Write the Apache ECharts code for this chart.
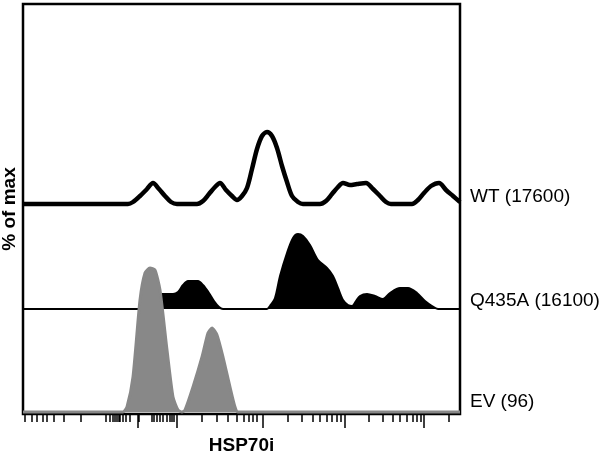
<!DOCTYPE html>
<html>
<head>
<meta charset="utf-8">
<script src="https://cdn.jsdelivr.net/npm/echarts@6/dist/echarts.min.js"></script>
<style>
  html, body { margin: 0; padding: 0; background: #fff; }
  #main { width: 600px; height: 453px; }
</style>
</head>
<body>
<div id="main"></div>
<script>
// display channel (0..437) vs height, one row per sample
var wtX = [0, 105, 110, 117, 124, 130, 136, 142, 148, 154, 174, 180, 186, 192, 197, 203, 209, 214, 219, 224, 229, 234, 239, 244, 249, 254, 259, 264, 269, 275, 280, 297, 303, 309, 315, 320, 327, 334, 343, 350, 357, 363, 368, 389, 395, 401, 408, 416, 423, 430, 437];
var wtY = [0, 0, 2, 8, 15, 21, 15, 8, 2, 0, 0, 3, 10, 17, 21, 14, 8, 4, 8, 16, 35, 55, 68, 72, 68, 56, 38, 22, 8, 2, 0, 0, 3, 10, 17, 21, 19, 20, 21, 15, 8, 2, 0, 0, 4, 11, 18, 21, 14, 8, 2];

var qX = [0, 125, 130, 135, 150, 155, 160, 165, 175, 180, 186, 191, 196, 200, 244, 247, 252, 257, 264, 270, 275, 280, 287, 295, 304, 310, 315, 320, 325, 329, 333, 337, 344, 352, 360, 367, 377, 385, 394, 402, 409, 415, 437];
var qY = [0, 0, 5, 15, 15, 17, 24, 28, 28, 24, 16, 8, 2, 0, 0, 3, 11, 33, 56, 71, 75, 73, 64, 49, 41, 33, 21, 9, 4, 3, 8, 13, 15, 13, 10, 16, 21, 21, 16, 8, 3, 0, 0];

var evX = [0, 100, 104, 110, 117, 122, 127, 132, 137, 144, 150, 155, 159, 162, 170, 179, 185, 189, 194, 200, 207, 212, 215, 437];
var evY = [0, 0, 5, 35, 112, 139, 144, 142, 122, 62, 15, 2, 0, 2, 25, 55, 79, 84, 77, 55, 25, 5, 0, 0];

var names = ['WT (17600)', 'Q435A (16100)', 'EV (96)'];
var offsets = [210, 105, 2];

var majorTicks = [114.5, 153.7, 239.3, 322, 401];
var minorTicks = [2, 8.7, 13.7, 19.7, 23.7, 30.3, 40.3, 57.7, 83, 87, 89.7, 92, 93.7, 95.7, 97, 100, 103, 107, 116, 128.7, 131, 133.7, 137, 139.7, 143.7, 146.3, 148.7, 150.3, 179, 194, 205, 213.5, 220.3, 225.5, 229.7, 233.7, 264.5, 279, 289.5, 296.5, 303.7, 309, 314, 317.5, 345.5, 360, 369.7, 377, 383.7, 389.5, 393.5, 397.3, 425.3];

function rows(xs, ys, off) {
    return xs.map(function (x, i) { return [x, ys[i] + off]; });
}

var font = 'Liberation Sans, Arial, sans-serif';

var myChart = echarts.init(document.getElementById('main'));

var option = {
    animation: false,
    grid: {
        left: 23, top: 4, width: 437, height: 410,
        outerBoundsMode: 'none', containLabel: false,
        show: true, borderColor: '#000', borderWidth: 2.5, backgroundColor: 'transparent'
    },
    xAxis: [
        {
            type: 'value', min: 0, max: 437,
            name: 'HSP70i', nameLocation: 'middle', nameGap: 22,
            nameTextStyle: { fontFamily: font, fontSize: 19, fontWeight: 'bold', color: '#000' },
            axisLine: { show: false },
            splitLine: { show: false },
            axisLabel: { show: false },
            axisTick: { show: true, length: 14, customValues: majorTicks, lineStyle: { color: '#000', width: 1.5 } }
        },
        {
            type: 'value', min: 0, max: 437, position: 'bottom',
            axisLine: { show: false },
            splitLine: { show: false },
            axisLabel: { show: false },
            axisTick: { show: true, length: 8, customValues: minorTicks, lineStyle: { color: '#000', width: 1.5 } }
        }
    ],
    yAxis: {
        type: 'value', min: 0, max: 410,
        name: '% of max', nameLocation: 'middle', nameGap: 4,
        nameTextStyle: { fontFamily: font, fontSize: 19, fontWeight: 'bold', color: '#000' },
        axisLine: { show: false },
        axisTick: { show: false },
        axisLabel: { show: false },
        splitLine: { show: false }
    },
    series: [
        {
            name: names[0], type: 'line', smooth: 0.3, showSymbol: false, z: 3,
            data: rows(wtX, wtY, offsets[0]),
            lineStyle: { color: '#000', width: 4.5 },
            endLabel: { show: true, formatter: '{a}', offset: [2, -5], fontFamily: font, fontSize: 19, color: '#000' }
        },
        {
            name: names[1], type: 'line', smooth: 0.3, showSymbol: false, z: 2,
            data: rows(qX, qY, offsets[1]),
            lineStyle: { color: '#000', width: 2 },
            areaStyle: { color: '#000', opacity: 1, origin: offsets[1] },
            endLabel: { show: true, formatter: '{a}', offset: [2, -8], fontFamily: font, fontSize: 19, color: '#000' }
        },
        {
            name: names[2], type: 'line', smooth: 0.2, showSymbol: false, z: 4,
            data: rows(evX, evY, offsets[2]),
            lineStyle: { color: '#888', width: 3 },
            areaStyle: { color: '#888', opacity: 1, origin: offsets[2] },
            endLabel: { show: true, formatter: '{a}', offset: [2, -10], fontFamily: font, fontSize: 19, color: '#000' }
        }
    ]
};

option && myChart.setOption(option);
</script>
</body>
</html>
